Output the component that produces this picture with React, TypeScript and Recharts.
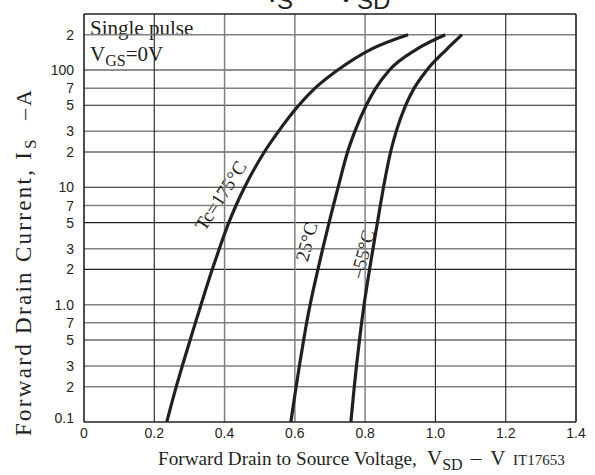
import React from 'react';
import { LineChart, Line, XAxis, YAxis, ReferenceLine } from 'recharts';

// Forward drain current Is (A) — shared sample points for all curves
const currentA = [0.1, 0.2, 0.3, 0.5, 0.7, 1, 2, 3, 5, 7, 10, 20, 30, 50, 70, 100, 150, 200];
// Forward drain-to-source voltage VSD (V) per case temperature
const vsdTc175 = [0.2355, 0.2625, 0.2796, 0.302, 0.317, 0.333, 0.365, 0.385, 0.412, 0.4325, 0.4569, 0.5131, 0.5535, 0.6112, 0.6575, 0.7221, 0.8163, 0.922];
const vsdTc25 = [0.5886, 0.6036, 0.6128, 0.625, 0.6335, 0.6435, 0.6657, 0.6794, 0.6973, 0.7096, 0.723, 0.75, 0.7708, 0.8032, 0.8303, 0.8693, 0.9459, 1.028];
const vsdTcM55 = [0.7594, 0.7691, 0.7753, 0.7839, 0.7899, 0.797, 0.8126, 0.8223, 0.8349, 0.8431, 0.8522, 0.8724, 0.8884, 0.9152, 0.9396, 0.9758, 1.0319, 1.0755];

const yTicks = [0.1, 0.2, 0.3, 0.5, 0.7, 1, 2, 3, 5, 7, 10, 20, 30, 50, 70, 100, 200];
const yTickLabels = ['0.1', '2', '3', '5', '7', '1.0', '2', '3', '5', '7', '10', '2', '3', '5', '7', '100', '2'];
const yGridDark = [false, false, false, true, false, false, true, false, true, false, true, true, false, true, false, true, false];
const xTicks = [0, 0.2, 0.4, 0.6, 0.8, 1.0, 1.2, 1.4];
const xTickLabels = ['0', '0.2', '0.4', '0.6', '0.8', '1.0', '1.2', '1.4'];
const xGridDark = [false, true, false, false, false, true, true, false];

const Y_MAX = 300;
const X_MAX = 1.4;

const SERIF = '"Liberation Serif", "Times New Roman", serif';
const SANS = '"Liberation Sans", Arial, sans-serif';
const INK = '#231f20';
const GRID_DARK = '#231f20';
const GRID_GRAY = '#808080';

const toSeries = (vs: number[]) => currentA.map((i, k) => ({ v: vs[k], i }));
const s175 = toSeries(vsdTc175);
const s25 = toSeries(vsdTc25);
const sM55 = toSeries(vsdTcM55);

const YTick = (props: any) => {
  const { x, y, payload } = props;
  const idx = yTicks.indexOf(payload.value);
  const lift = payload.value === 0.1 ? -4 : 0;
  return (
    <text x={x} y={y + lift} dy="0.36em" textAnchor="end" fontFamily={SANS} fontSize={14} fill={INK}>
      {yTickLabels[idx]}
    </text>
  );
};

const XTick = (props: any) => {
  const { x, y, payload } = props;
  const idx = xTicks.indexOf(payload.value);
  return (
    <text x={x} y={y} dy="0.71em" textAnchor="middle" fontFamily={SANS} fontSize={14} fill={INK}>
      {xTickLabels[idx]}
    </text>
  );
};

export default function App() {
  return (
    <div style={{ position: 'absolute', left: 0, top: 0, width: 595, height: 475, background: '#fff' }}>
      <LineChart width={595} height={475} margin={{ top: 14, right: 19, bottom: 23, left: 0 }}>
        <XAxis
          dataKey="v"
          type="number"
          domain={[0, X_MAX]}
          ticks={xTicks}
          interval={0}
          allowDataOverflow
          height={30}
          tickLine={false}
          tickSize={0}
          tickMargin={6}
          tick={<XTick />}
          axisLine={{ stroke: INK, strokeWidth: 1.6 }}
        />
        <YAxis
          dataKey="i"
          type="number"
          scale="log"
          domain={[0.1, Y_MAX]}
          ticks={yTicks}
          interval={0}
          allowDataOverflow
          width={84}
          tickLine={false}
          tickSize={0}
          tickMargin={10}
          tick={<YTick />}
          axisLine={{ stroke: INK, strokeWidth: 1.6 }}
        />
        {yTicks.slice(1).map((t, k) => (
          <ReferenceLine
            key={'gy' + t}
            y={t}
            stroke={yGridDark[k + 1] ? GRID_DARK : GRID_GRAY}
            strokeWidth={yGridDark[k + 1] ? 1.1 : 1.5}
          />
        ))}
        {xTicks.slice(1, -1).map((t, k) => (
          <ReferenceLine
            key={'gx' + t}
            x={t}
            stroke={xGridDark[k + 1] ? GRID_DARK : GRID_GRAY}
            strokeWidth={xGridDark[k + 1] ? 1.1 : 1.5}
          />
        ))}
        <ReferenceLine y={Y_MAX} stroke={INK} strokeWidth={1.6} />
        <ReferenceLine x={X_MAX} stroke={INK} strokeWidth={1.6} />

        <g>
          {/* title, clipped at the top edge */}
          <text y={2} fontFamily={SANS} fontSize={30} fill={INK}>
            <tspan x={268}>I</tspan>
            <tspan x={312} dy={-6}>–</tspan>
            <tspan x={336} dy={6}>V</tspan>
          </text>
          <text y={9} fontFamily={SANS} fontSize={24} fill={INK}>
            <tspan x={277}>S</tspan>
            <tspan x={357}>SD</tspan>
          </text>

          {/* condition box */}
          <rect x={85} y={15} width={115} height={52} fill="#fff" />
          <text x={90} y={35} fontFamily={SERIF} fontSize={21} fill={INK}>Single pulse</text>
          <text x={90} y={61} fontFamily={SERIF} fontSize={21} fill={INK}>
            V<tspan fontSize={16} dy={5}>GS</tspan>
            <tspan dy={-5}>=0V</tspan>
          </text>

          {/* curve labels */}
          <g transform="translate(221,196) rotate(-57)">
            <rect x={-46} y={-10} width={92} height={20} fill="#fff" />
            <text x={0} y={6} textAnchor="middle" fontFamily={SERIF} fontSize={19} fill={INK}>Tc=175°C</text>
          </g>
          <g transform="translate(307,242) rotate(-75)">
            <rect x={-22} y={-10} width={44} height={20} fill="#fff" />
            <text x={0} y={6} textAnchor="middle" fontFamily={SERIF} fontSize={19} fill={INK}>25°C</text>
          </g>
          <g transform="translate(363,254) rotate(-75)">
            <rect x={-28} y={-10} width={56} height={20} fill="#fff" />
            <text x={0} y={6} textAnchor="middle" fontFamily={SERIF} fontSize={19} fill={INK}>–55°C</text>
          </g>

          {/* x axis title */}
          <text x={158} y={465} fontFamily={SERIF} fontSize={21} fill={INK}>
            <tspan fontSize={19.2}>Forward Drain to Source Voltage,</tspan>
            <tspan x={427}>V</tspan>
            <tspan fontSize={16} dy={5}>SD</tspan>
            <tspan dy={-5} dx={8}>–</tspan>
            <tspan dx={9}>V</tspan>
          </text>
          <text x={513} y={465} fontFamily={SERIF} fontSize={15} fill={INK}>IT17653</text>

          {/* y axis title */}
          <g transform="translate(31,436) rotate(-90)">
            <text x={0} y={0} fontFamily={SERIF} fontSize={23} fill={INK} textLength={284} lengthAdjust="spacing">
              Forward Drain Current, I
            </text>
            <text x={287} y={5} fontFamily={SERIF} fontSize={17} fill={INK}>S</text>
            <text x={316} y={0} fontFamily={SERIF} fontSize={22} fill={INK}>–</text>
            <text x={330} y={0} fontFamily={SERIF} fontSize={22} fill={INK}>A</text>
          </g>
        </g>

        <Line data={s175} dataKey="i" type="monotone" stroke={INK} strokeWidth={3.2} dot={false} isAnimationActive={false} />
        <Line data={s25} dataKey="i" type="monotone" stroke={INK} strokeWidth={3.2} dot={false} isAnimationActive={false} />
        <Line data={sM55} dataKey="i" type="monotone" stroke={INK} strokeWidth={3.2} dot={false} isAnimationActive={false} />
      </LineChart>
    </div>
  );
}
